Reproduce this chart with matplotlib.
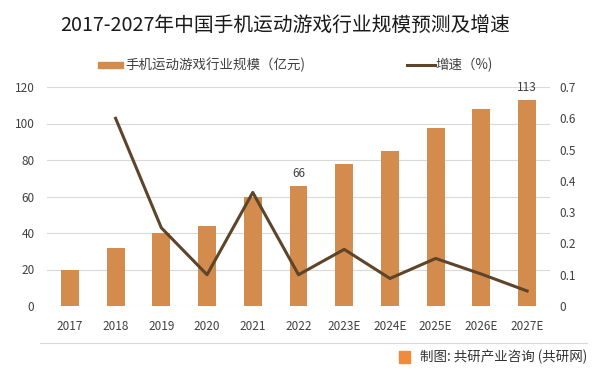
import matplotlib
matplotlib.use("Agg")
import matplotlib.pyplot as plt
from matplotlib.patches import Rectangle

plt.rcParams['font.family'] = ['Noto Sans CJK SC', 'DejaVu Sans']

years = ['2017', '2018', '2019', '2020', '2021', '2022', '2023E', '2024E', '2025E', '2026E', '2027E']
market_size = [19.5, 32, 40, 44, 60, 66, 78, 85, 97.5, 108, 113]
growth_years = ['2018', '2019', '2020', '2021', '2022', '2023E', '2024E', '2025E', '2026E', '2027E']
growth_rate = [0.60, 0.25, 0.10, 0.363, 0.10, 0.181, 0.088, 0.152, 0.102, 0.048]
left_ticks = [0, 20, 40, 60, 80, 100, 120]
right_ticks = [0, 0.1, 0.2, 0.3, 0.4, 0.5, 0.6, 0.7]
right_tick_labels = ['0', '0.1', '0.2', '0.3', '0.4', '0.5', '0.6', '0.7']
labeled = {'2022': '66', '2027E': '113'}

bar_color = '#D38B4E'
line_color = '#5E4429'
text_color = '#404040'

W, H = 599, 374
fig = plt.figure(figsize=(W / 100, H / 100), dpi=100)
ax = fig.add_axes([47 / W, 1 - 306 / H, (550 - 47) / W, (306 - 87) / H])

x = list(range(len(years)))
ax.bar(x, market_size, width=0.39, color=bar_color, zorder=2)
ax.set_xlim(-0.5, len(years) - 0.5)
ax.set_ylim(0, 120)
ax.set_yticks(left_ticks)
ax.set_xticks(x)
ax.set_xticklabels(years)
ax.grid(axis='y', color='#D9D9D9', linewidth=0.8, zorder=0)
for s in ax.spines.values():
    s.set_visible(False)
ax.tick_params(axis='both', length=0, labelsize=8.5, labelcolor=text_color)
ax.tick_params(axis='x', pad=10)
ax.tick_params(axis='y', pad=9)

for i, y in enumerate(years):
    if y in labeled:
        ax.text(i, market_size[i] + 3, labeled[y], ha='center', va='bottom', fontsize=8.5, color=text_color)

ax2 = ax.twinx()
gx = [years.index(g) for g in growth_years]
ax2.plot(gx, growth_rate, color=line_color, linewidth=2.2, zorder=3)
ax2.set_ylim(0, 0.7)
ax2.set_yticks(right_ticks)
ax2.set_yticklabels(right_tick_labels)
for s in ax2.spines.values():
    s.set_visible(False)
ax2.tick_params(axis='y', length=0, labelsize=8.5, labelcolor=text_color, pad=7)

fig.text(285 / W, 1 - 25 / H, '2017-2027年中国手机运动游戏行业规模预测及增速', ha='center', va='center',
         fontsize=14.2, color='#1a1a1a')

# legend
fig.patches.append(Rectangle((98 / W, 1 - 68 / H), 25 / W, 6 / H, transform=fig.transFigure,
                             color=bar_color, figure=fig))
fig.text(125 / W, 1 - 65 / H, '手机运动游戏行业规模（亿元)', ha='left', va='center', fontsize=9.7, color=text_color)
fig.lines.append(plt.Line2D([407 / W, 435 / W], [1 - 65 / H, 1 - 65 / H], transform=fig.transFigure,
                            color=line_color, linewidth=2.2))
fig.text(435 / W, 1 - 65 / H, '增速（%)', ha='left', va='center', fontsize=9.7, color=text_color)

# footer
fig.lines.append(plt.Line2D([40 / W, 587 / W], [1 - 343 / H, 1 - 343 / H], transform=fig.transFigure,
                            color='#D9D9D9', linewidth=0.8))
fig.patches.append(Rectangle((399 / W, 1 - 363 / H), 11 / W, 12 / H, transform=fig.transFigure,
                             color='#F08A3C', figure=fig))
fig.text(420 / W, 1 - 357 / H, '制图: 共研产业咨询 (共研网)', ha='left', va='center', fontsize=9.7, color='#333333')

fig.savefig('out.png', dpi=100)
